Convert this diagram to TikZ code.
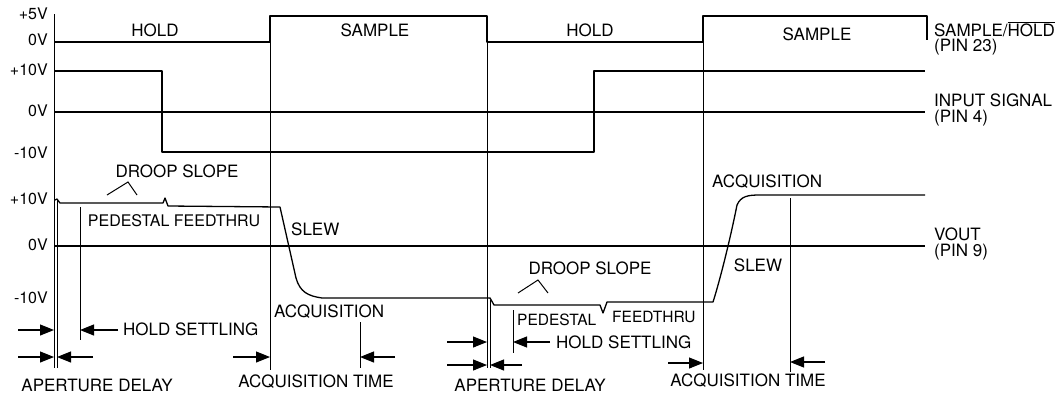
\documentclass[tikz,border=0pt]{standalone}
\usepackage{fontspec}
\setmainfont{TeX Gyre Heros}
\usetikzlibrary{arrows.meta}
\begin{document}
\begin{tikzpicture}[x=1pt,y=-1pt,
  trace/.style={line width=1.3pt,line join=round},
  marker/.style={line width=1pt},
  dimarrow/.style={line width=1.1pt,-{Triangle[length=14pt,width=11pt]}},
  lbl/.style={inner sep=0pt,font=\fontsize{17}{19}\selectfont},
  mid/.style={inner sep=0pt,font=\fontsize{16}{18}\selectfont},
  small/.style={inner sep=0pt,font=\fontsize{15.5}{17}\selectfont},
  axlbl/.style={inner sep=0pt,anchor=east,font=\fontsize{16}{18}\selectfont}]
\useasboundingbox (0,0) rectangle (1064,397);
% time markers
\draw[marker] (54,14) -- (54,368);
\draw[marker] (57,200) -- (57,368);
\draw[marker] (80,207) -- (80,340);
\draw[marker] (270,16) -- (270,370);
\draw[marker] (360,322) -- (360,368);
\draw[marker] (487,16) -- (487,368);
\draw[marker] (490,300) -- (490,368);
\draw[marker] (513,310) -- (513,353);
\draw[marker] (703,16) -- (703,370);
\draw[marker] (790,198) -- (790,372);
% sample/hold signal
\draw[trace] (54,42) -- (270,42) -- (270,16) -- (487,16) -- (487,42) -- (703,42) -- (703,16) -- (927,16) -- (927,40);
% input signal
\draw[trace] (54,112) -- (925,112);
\draw[trace] (54,71) -- (162,71) -- (162,152) -- (594,152) -- (594,71) -- (925,71);
% vout
\draw[trace] (54,246) -- (925,246);
\draw[trace] (55,200) -- (57,199) -- (60,203) -- (163,203) -- (165,198) -- (168,206) -- (280,207)
  -- (296,278) .. controls (300,292) and (308,296) .. (322,298) -- (490,298) -- (494,305)
  -- (600,305) -- (603,313) -- (607,302) -- (713,302)
  .. controls (720,280) and (730,240) .. (737,205) .. controls (741,196) and (748,195) .. (760,195) -- (925,195);
% droop slope marks
\draw[marker] (107,195) -- (128,182) -- (137,195);
\draw[marker] (518,293) -- (538,280) -- (548,293);
% dimension arrows
\coordinate (a1s) at (18,330); \coordinate (a1e) at (54,330);
\coordinate (a2s) at (118,330); \coordinate (a2e) at (80,330);
\coordinate (a3s) at (18,357); \coordinate (a3e) at (54,357);
\coordinate (a4s) at (93,357); \coordinate (a4e) at (57,357);
\coordinate (a5s) at (233,357); \coordinate (a5e) at (270,357);
\coordinate (a6s) at (395,357); \coordinate (a6e) at (360,357);
\coordinate (b1s) at (447,342); \coordinate (b1e) at (487,342);
\coordinate (b2s) at (550,342); \coordinate (b2e) at (513,342);
\coordinate (b3s) at (447,365); \coordinate (b3e) at (487,365);
\coordinate (b4s) at (522,365); \coordinate (b4e) at (490,365);
\coordinate (b5s) at (668,363); \coordinate (b5e) at (703,363);
\coordinate (b6s) at (825,362); \coordinate (b6e) at (790,362);
\foreach \p in {a1,a2,a3,a4,a5,a6,b1,b2,b3,b4,b5,b6}
  \draw[dimarrow] (\p s) -- (\p e);
% axis labels
\node[axlbl] (l5v) at (48,14) {+5V};
\node[axlbl] (l0a) at (48,40) {0V};
\node[axlbl] (l10a) at (48,70) {+10V};
\node[axlbl] (l0b) at (48,111) {0V};
\node[axlbl] (lm10a) at (48,153) {-10V};
\node[axlbl] (l10b) at (48,199) {+10V};
\node[axlbl] (l0c) at (48,245) {0V};
\node[axlbl] (lm10b) at (48,298) {-10V};
% top labels
\node[lbl] (hold1) at (155,30) {HOLD};
\node[lbl] (samp1) at (375,30) {SAMPLE};
\node[lbl] (hold2) at (590,30) {HOLD};
\node[lbl] (samp2) at (817,34) {SAMPLE};
% right labels
\node[lbl,anchor=west] (sh) at (934,29) {SAMPLE/$\overline{\mbox{HOLD}}$};
\node[lbl,anchor=west] (sh2) at (934,47) {(PIN 23)};
\node[lbl,anchor=west] (in) at (934,100) {INPUT SIGNAL};
\node[lbl,anchor=west] (in2) at (934,118) {(PIN 4)};
\node[lbl,anchor=west] (vo) at (934,234) {VOUT};
\node[lbl,anchor=west] (vo2) at (934,252) {(PIN 9)};
% first cycle annotations
\node[lbl] (droop1) at (177,171) {DROOP SLOPE};
\node[mid] (ped1) at (174,221) {PEDESTAL FEEDTHRU};
\node[lbl,anchor=west] (slew1) at (291,229) {SLEW};
\node[lbl,anchor=west] (hs1) at (123,329) {HOLD SETTLING};
\node[lbl] (ad1) at (97,385) {APERTURE DELAY};
\node[lbl,anchor=west] (acq1) at (274,312) {ACQUISITION};
\node[lbl] (acqt1) at (316,382) {ACQUISITION TIME};
% second cycle annotations
\node[lbl] (droop2) at (590,268) {DROOP SLOPE};
\node[small,anchor=west] (ped2) at (517,320) {PEDESTAL};
\node[small,anchor=west] (feed2) at (612,317) {FEEDTHRU};
\node[lbl,anchor=west] (hs2) at (556,342) {HOLD SETTLING};
\node[lbl] (ad2) at (530,385) {APERTURE DELAY};
\node[lbl,anchor=west] (acq2) at (712,182) {ACQUISITION};
\node[lbl] (slew2) at (758,265) {SLEW};
\node[lbl] (acqt2) at (748,381) {ACQUISITION TIME};
\end{tikzpicture}
\end{document}
